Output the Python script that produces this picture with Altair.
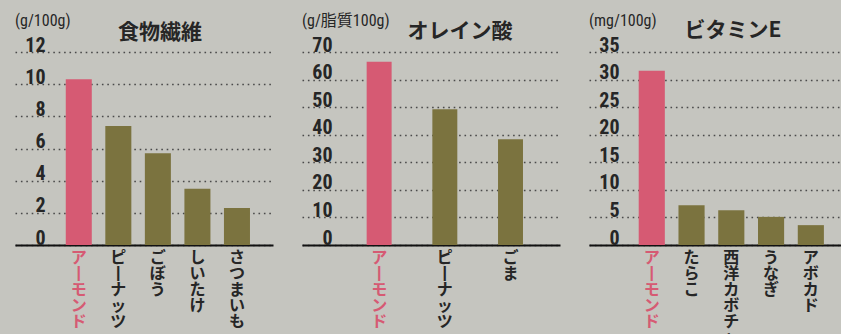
import altair as alt
import pandas as pd

# ---- data ----
fiber_cats = ["アーモンド", "ピーナッツ", "ごぼう", "しいたけ", "さつまいも"]
fiber_vals = [10.3, 7.4, 5.7, 3.5, 2.3]

oleic_cats = ["アーモンド", "ピーナッツ", "ごま"]
oleic_vals = [66.5, 49.2, 38.4]

vite_cats = ["アーモンド", "たらこ", "西洋カボチャ", "うなぎ", "アボカド"]
vite_vals = [31.6, 7.2, 6.3, 5.1, 3.6]

titles = ["食物繊維", "オレイン酸", "ビタミンE"]
units = ["(g/100g)", "(g/脂質100g)", "(mg/100g)"]

PINK = "#d65a73"
OLIVE = "#7b733f"
TXT = "#262626"
BG = "#c5c5bf"
NARROW = "Roboto Condensed, Liberation Sans Narrow, DejaVu Sans Condensed, Noto Sans CJK JP, sans-serif"
JP = "Noto Sans CJK JP, sans-serif"

PLOT_H = 193


def panel(cats, vals, ymax, step, unit, title, title_x, title_y, width, pi, po, align):
    df = pd.DataFrame({"cat": cats, "val": vals})
    bars = alt.Chart(df).mark_bar().encode(
        x=alt.X(
            "cat:N",
            sort=cats,
            scale=alt.Scale(paddingInner=pi, paddingOuter=po, align=align),
            axis=alt.Axis(
                title=None,
                labelAngle=0,
                labelExpr="split(replace(datum.label, 'ー', '丨'), '')",
                labelBaseline="top",
                labelAlign="center",
                labelPadding=4,
                labelFont=JP,
                labelFontSize=16,
                labelLineHeight=16,
                labelColor={"condition": {"test": "datum.value === 'アーモンド'", "value": PINK}, "value": TXT},
                labelFontWeight="bold",
                ticks=False,
                tickSize=0,
                domain=True,
                domainColor="#111111",
                domainWidth=2.2,
                grid=False,
                labelOverlap=False,
            ),
        ),
        y=alt.Y(
            "val:Q",
            scale=alt.Scale(domain=[0, ymax], nice=False, zero=True),
            axis=alt.Axis(
                title=None,
                values=list(range(0, ymax + 1, step)),
                grid=True,
                gridColor="#4a4a4a",
                gridDash=[1.6, 3.8],
                gridWidth=1.6,
                domain=False,
                ticks=False,
                tickSize=0,
                labelPadding=-30,
                labelAlign="right",
                labelBaseline="alphabetic",
                labelOffset=-1,
                labelFont=NARROW,
                labelFontSize=20,
                labelFontWeight="bold",
                labelColor=TXT,
            ),
        ),
        color=alt.condition(alt.datum.cat == "アーモンド", alt.value(PINK), alt.value(OLIVE)),
    )
    unit_txt = alt.Chart(pd.DataFrame({"t": [unit]})).mark_text(
        align="left", baseline="middle", fontSize=16, font=NARROW, color=TXT
    ).encode(x=alt.value(0), y=alt.value(-31), text="t:N")
    title_txt = alt.Chart(pd.DataFrame({"t": [title]})).mark_text(
        align="center", baseline="middle", fontSize=21, fontWeight="bold", font=JP, color=TXT
    ).encode(x=alt.value(title_x), y=alt.value(title_y), text="t:N")
    return alt.layer(bars, unit_txt, title_txt).properties(width=width, height=PLOT_H)


p1 = panel(fiber_cats, fiber_vals, 12, 2, units[0], titles[0], 145, -19, 258, 0.342, 0.933, 0.688)
p2 = panel(oleic_cats, oleic_vals, 70, 10, units[1], titles[1], 158, -20, 258, 0.62, 0.774, 0.636)
p3 = panel(vite_cats, vite_vals, 35, 5, units[2], titles[2], 144, -21, 252, 0.343, 0.84, 0.744)

chart = alt.hconcat(p1, p2, p3, spacing=29, bounds="flush").properties(
    background=BG,
    padding={"left": 15, "top": 13, "right": 0, "bottom": -11},
).configure_view(stroke=None)

chart.save("out.html", embed_options={"renderer": "svg", "actions": False})
